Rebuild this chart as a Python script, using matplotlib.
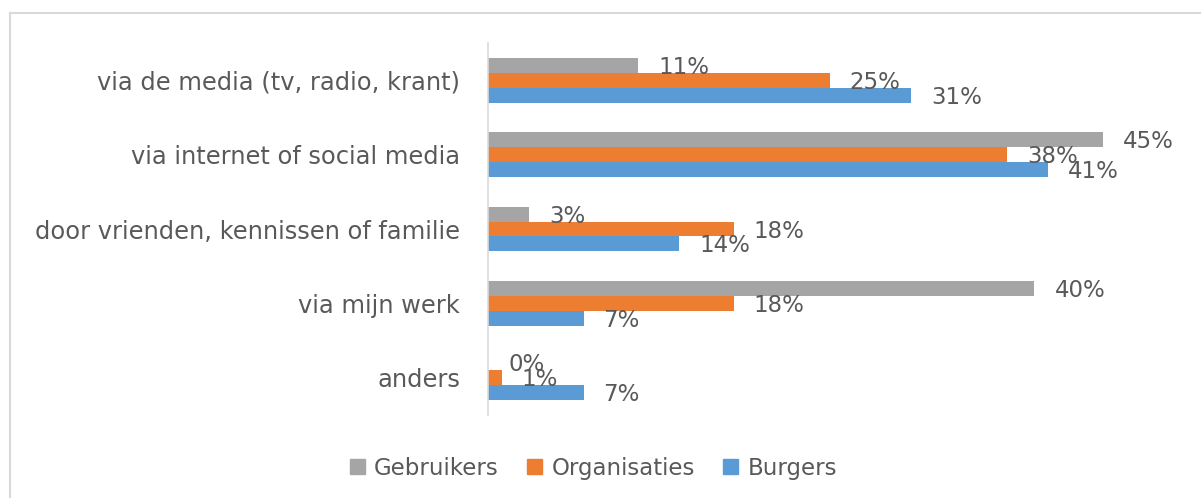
import matplotlib
matplotlib.use("Agg")
import matplotlib.pyplot as plt
import matplotlib.patches as mpatches
from matplotlib.lines import Line2D
import numpy as np

# Data (top to bottom)
categories = [
    "via de media (tv, radio, krant)",
    "via internet of social media",
    "door vrienden, kennissen of familie",
    "via mijn werk",
    "anders",
]
gebruikers = [11, 45, 3, 40, 0]
organisaties = [25, 38, 18, 18, 1]
burgers = [31, 41, 14, 7, 7]
series_names = ["Gebruikers", "Organisaties", "Burgers"]

COLORS = {
    "Gebruikers": "#a5a5a5",
    "Organisaties": "#ed7d31",
    "Burgers": "#5b9bd5",
    "text": "#595959",
    "line": "#d9d9d9",
}
FONT = ["DejaVu Sans"]

W, H = 1201, 498
fig = plt.figure(figsize=(W / 100, H / 100), dpi=100, facecolor="white")

# plot area in pixels: x 488..1171, y 43..415
ax = fig.add_axes([488 / W, (H - 415) / H, (1171 - 488) / W, (415 - 43) / H])
ax.set_facecolor("white")

y = np.arange(len(categories))
bh = 0.2
series = [gebruikers, organisaties, burgers]
for i, (name, vals) in enumerate(zip(series_names, series)):
    pos = y + (i - 1) * bh
    ax.barh(pos, vals, height=bh, color=COLORS[name], label=name)
    for p, v in zip(pos, vals):
        ax.annotate(f"{v}%", xy=(v, p), xytext=(20, -2), textcoords="offset pixels",
                    ha="left", va="center", color=COLORS["text"], fontsize=16.5,
                    family=FONT)

ax.set_xlim(0, 50)
ax.set_ylim(len(categories) - 0.5, -0.5)
ax.set_yticks(y)
ax.set_yticklabels(categories, fontsize=17.4, color=COLORS["text"], family=FONT)
ax.set_xticks([])
ax.tick_params(axis="y", length=0, pad=20)
for s in ["top", "right", "bottom"]:
    ax.spines[s].set_visible(False)
ax.spines["left"].set_color(COLORS["line"])
ax.spines["left"].set_linewidth(1.2)

# Legend
handles = [mpatches.Patch(color=COLORS[n], label=n) for n in series_names]
leg = fig.legend(handles=handles, loc="center", bbox_to_anchor=(0.494, 30 / H),
                 ncol=3, frameon=False, handlelength=0.65, handleheight=0.65,
                 handletextpad=0.4, columnspacing=1.25,
                 prop={"family": FONT, "size": 16.5})
for t in leg.get_texts():
    t.set_color(COLORS["text"])

# Chart border (top and left visible in the crop)
fig.add_artist(Line2D([10 / W, 1.0], [1 - 13 / H, 1 - 13 / H], color=COLORS["line"],
                      linewidth=1.5, transform=fig.transFigure))
fig.add_artist(Line2D([10 / W, 10 / W], [0, 1 - 13 / H], color=COLORS["line"],
                      linewidth=1.5, transform=fig.transFigure))

fig.savefig("out.png", dpi=100, facecolor="white")
